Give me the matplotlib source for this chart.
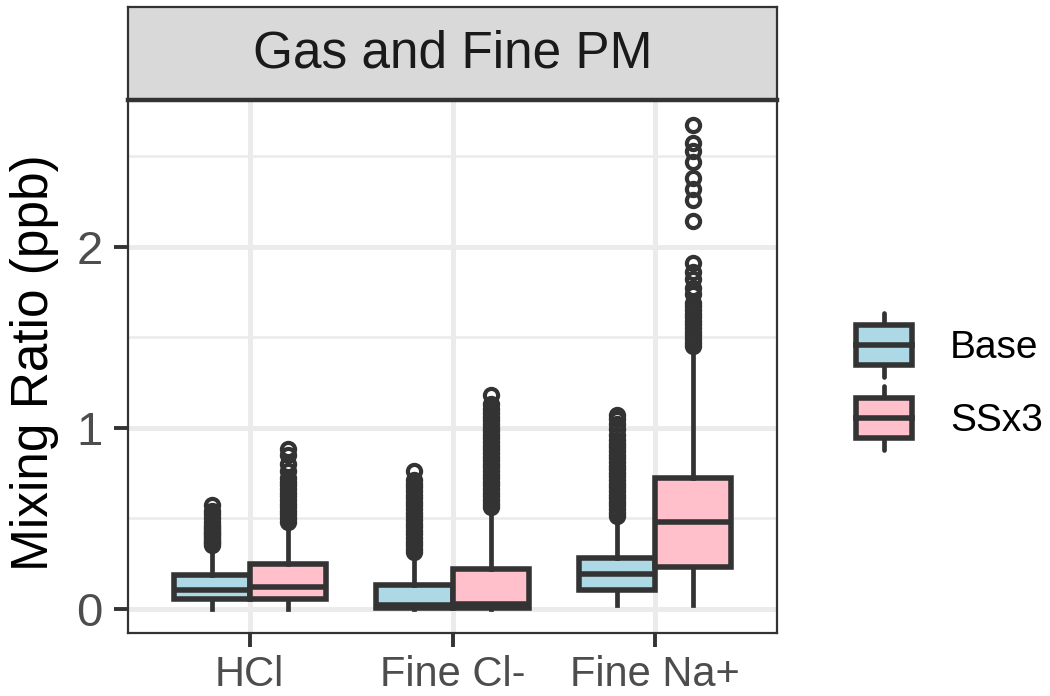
import numpy as np
import matplotlib.pyplot as plt
from matplotlib.patches import Rectangle

plt.rcParams['font.family'] = ['Liberation Sans', 'DejaVu Sans']

species = ['HCl', 'Fine Cl-', 'Fine Na+']
runs = ['Base', 'SSx3']
fills = {'Base': '#ADD8E6', 'SSx3': '#FFC0CB'}

# box summaries (ppb), one entry per species
base_low = [0.0, 0.0, 0.02]
base_q1 = [0.055, 0.005, 0.105]
base_med = [0.10, 0.02, 0.19]
base_q3 = [0.185, 0.13, 0.278]
base_high = [0.34, 0.30, 0.50]

ss_low = [0.0, 0.0, 0.02]
ss_q1 = [0.055, 0.005, 0.23]
ss_med = [0.12, 0.025, 0.477]
ss_q3 = [0.245, 0.22, 0.72]
ss_high = [0.47, 0.545, 1.44]

# outliers (ppb)
base_out_hcl = [0.35, 0.36, 0.37, 0.38, 0.39, 0.40, 0.41, 0.42, 0.43, 0.44,
                0.45, 0.46, 0.48, 0.50, 0.52, 0.54, 0.57]
base_out_cl = [0.31, 0.33, 0.35, 0.37, 0.39, 0.41, 0.43, 0.45, 0.47, 0.49,
               0.51, 0.53, 0.55, 0.57, 0.59, 0.61, 0.63, 0.65, 0.67, 0.69,
               0.71, 0.76]
base_out_na = [0.51, 0.53, 0.55, 0.57, 0.59, 0.61, 0.63, 0.65, 0.67, 0.69,
               0.71, 0.73, 0.75, 0.77, 0.79, 0.81, 0.83, 0.85, 0.87, 0.89,
               0.91, 0.93, 0.96, 0.99, 1.02, 1.05, 1.07]
ss_out_hcl = [0.48, 0.50, 0.52, 0.54, 0.56, 0.58, 0.60, 0.62, 0.64, 0.66,
              0.68, 0.70, 0.72, 0.76, 0.80, 0.85, 0.88]
ss_out_cl = [0.56, 0.58, 0.60, 0.62, 0.64, 0.66, 0.68, 0.70, 0.72, 0.74,
             0.76, 0.78, 0.80, 0.82, 0.84, 0.86, 0.88, 0.90, 0.92, 0.94,
             0.96, 0.98, 1.00, 1.02, 1.04, 1.06, 1.08, 1.10, 1.13, 1.18]
ss_out_na = [1.45, 1.47, 1.49, 1.51, 1.53, 1.55, 1.57, 1.59, 1.61, 1.63,
             1.65, 1.67, 1.69, 1.74, 1.77, 1.82, 1.86, 1.91, 2.14, 2.26,
             2.32, 2.38, 2.47, 2.53, 2.57, 2.67]

summaries = {
    'Base': (base_low, base_q1, base_med, base_q3, base_high,
             [base_out_hcl, base_out_cl, base_out_na]),
    'SSx3': (ss_low, ss_q1, ss_med, ss_q3, ss_high,
             [ss_out_hcl, ss_out_cl, ss_out_na]),
}

dark = '#333333'
W, H = 1050, 696
fig = plt.figure(figsize=(W / 100, H / 100), dpi=100)

ax = fig.add_axes([128 / W, 1 - 633 / H, 649 / W, 533 / H])
ax.set_facecolor('white')
ax.set_axisbelow(True)

width = 0.375
for j, run in enumerate(runs):
    low, q1, med, q3, high, outs = summaries[run]
    for i, sp in enumerate(species):
        stats = [dict(whislo=low[i], q1=q1[i], med=med[i], q3=q3[i],
                      whishi=high[i], fliers=outs[i])]
        pos = i + 1 + (j - 0.5) * width
        ax.bxp(stats, positions=[pos], widths=width, patch_artist=True,
               showcaps=False, manage_ticks=False,
               boxprops=dict(facecolor=fills[run], edgecolor=dark, linewidth=4.0),
               medianprops=dict(color=dark, linewidth=4.0),
               whiskerprops=dict(color=dark, linewidth=3.4),
               flierprops=dict(marker='o', markerfacecolor='none',
                               markeredgecolor=dark, markersize=9.5,
                               markeredgewidth=3.0))

ax.set_xlim(0.4, 3.6)
ax.set_ylim(-0.135, 2.81)
ax.set_xticks([1, 2, 3])
ax.set_xticklabels(species)
ax.set_yticks([0, 1, 2])
ax.set_yticks([0.5, 1.5, 2.5], minor=True)
ax.grid(which='major', color='#EBEBEB', linewidth=3.6)
ax.grid(which='minor', axis='y', color='#EBEBEB', linewidth=1.8)
ax.tick_params(which='minor', length=0)
ax.tick_params(which='major', length=10, width=2.8, color=dark,
               labelcolor='#4D4D4D')
ax.tick_params(axis='x', labelsize=30, pad=6)
ax.tick_params(axis='y', labelsize=34, pad=8)
for s in ax.spines.values():
    s.set_color(dark)
    s.set_linewidth(1.6)
ax.set_ylabel('Mixing Ratio (ppb)', fontsize=37, color='black')
ax.yaxis.set_label_coords(-0.106, 0.508)

# facet strip
strip = fig.add_axes([128 / W, 1 - 100 / H, 649 / W, 93 / H])
strip.set_facecolor('#D9D9D9')
strip.set_xticks([])
strip.set_yticks([])
for s in strip.spines.values():
    s.set_color(dark)
    s.set_linewidth(1.6)
strip.spines['bottom'].set_linewidth(3.2)
strip.text(0.5, 0.5, 'Gas and Fine PM', ha='center', va='center',
           fontsize=37, color='#1A1A1A', transform=strip.transAxes)

# legend keys
leg = fig.add_axes([0, 0, 1, 1])
leg.set_xlim(0, W)
leg.set_ylim(H, 0)
leg.axis('off')
for run, cy, ty in [('Base', 345, 348), ('SSx3', 418, 421)]:
    leg.plot([884, 884], [cy - 32, cy + 32], color=dark, lw=3.4,
             solid_capstyle='round', zorder=1)
    leg.add_patch(Rectangle((856, cy - 20), 56, 40, facecolor=fills[run],
                            edgecolor=dark, linewidth=4.0, zorder=2))
    leg.plot([856, 912], [cy, cy], color=dark, lw=4.0, zorder=3)
    leg.text(950, ty, run, fontsize=28, va='center', ha='left', color='black')

fig.savefig('out.png', dpi=100)
